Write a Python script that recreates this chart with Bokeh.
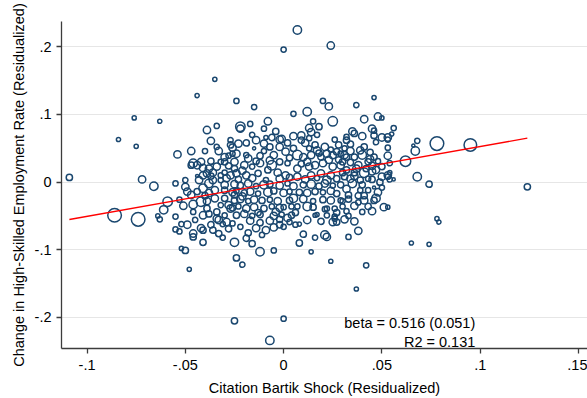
import math
from bokeh.plotting import figure
from bokeh.models import ColumnDataSource, Label, FixedTicker
from bokeh.embed import file_html
from bokeh.resources import INLINE

# Residualized citation Bartik shock (x) for each area
shock = [
    -0.109, -0.076, -0.063, -0.084, -0.075, -0.044, -0.072, -0.066, -0.054, -0.047,
    -0.046, -0.047, -0.055, -0.050, -0.044, -0.050, -0.086, -0.074, -0.064, -0.063,
    -0.061, -0.059, -0.055, -0.051, -0.046, -0.055, -0.053, -0.052, -0.049, -0.046,
    -0.045, -0.052, -0.050, -0.048, -0.049, -0.046, 0.007, 0.000, 0.024, -0.035,
    -0.024, -0.015, 0.005, 0.012, 0.020, 0.023, 0.025, 0.037, 0.046, 0.041,
    0.048, 0.050, -0.008, -0.017, -0.022, -0.022, -0.034, -0.039, -0.010, 0.013,
    0.015, 0.018, 0.035, 0.045, -0.037, -0.023, -0.027, -0.002, 0.005, 0.009,
    0.026, 0.032, 0.040, 0.053, 0.050, 0.056, 0.055, 0.068, 0.066, 0.067,
    0.078, 0.095, 0.062, 0.053, 0.053, 0.054, 0.068, 0.074, 0.124, 0.053,
    0.054, 0.056, 0.078, 0.079, 0.065, 0.074, 0.053, -0.025, 0.000, -0.007,
    0.037, 0.024, 0.042, -0.021, -0.024, -0.012, -0.005, 0.014, -0.025, -0.019,
    -0.016, -0.041, 0.008, 0.016, 0.021, 0.022, 0.033, 0.038, 0.045, 0.040,
    0.036, 0.025, 0.026, 0.022, 0.016, 0.010, 0.006, 0.008, 0.003, -0.002,
    -0.009, -0.014, -0.022, -0.026, -0.033, -0.031, -0.041, -0.038, -0.005, 0.000,
    0.027, 0.026, 0.029, 0.026, 0.022, 0.017, 0.012, 0.007, 0.004, 0.000,
    0.005, 0.033, 0.032, 0.030, 0.051, 0.047, 0.046, 0.041, 0.038, 0.043,
    0.046, 0.049, 0.040, 0.039, 0.038, 0.032, 0.033, 0.030, 0.050, 0.053,
    0.034, 0.039, 0.043, -0.053, -0.040, -0.042, -0.041, -0.046, -0.042, -0.047,
    -0.044, -0.041, -0.043, -0.038, -0.038, -0.039, -0.037, -0.036, -0.034, -0.033,
    -0.029, -0.031, -0.030, -0.027, -0.034, -0.033, -0.040, -0.037, -0.042, -0.044,
    -0.041, -0.038, -0.034, -0.032, -0.027, -0.030, -0.028, -0.026, -0.030, -0.041,
    -0.039, -0.036, -0.032, -0.030, -0.027, -0.009, -0.006, -0.001, 0.014, 0.013,
    0.017, 0.028, -0.026, -0.024, -0.019, -0.015, -0.012, -0.010, -0.007, -0.002,
    0.001, 0.005, 0.007, 0.013, 0.010, 0.017, 0.019, 0.022, 0.025, 0.029,
    0.031, -0.025, -0.020, -0.016, -0.012, -0.007, -0.006, -0.002, 0.002, 0.007,
    0.013, 0.016, 0.020, 0.025, 0.029, -0.024, -0.019, -0.013, -0.003, 0.001,
    0.007, 0.014, 0.019, 0.024, 0.030, 0.046, 0.036, 0.046, 0.053, 0.032,
    0.034, 0.047, 0.039, 0.040, 0.036, 0.032, 0.046, 0.030, 0.034, 0.038,
    0.043, 0.045, 0.050, 0.032, 0.036, 0.041, 0.054, -0.037, -0.032, -0.029,
    -0.035, -0.030, -0.035, -0.030, -0.032, -0.028, -0.023, -0.016, -0.009, -0.002,
    0.003, 0.011, 0.017, 0.022, 0.027, -0.025, -0.022, -0.018, -0.014, -0.010,
    -0.007, -0.002, 0.002, 0.005, 0.010, 0.014, 0.018, 0.021, 0.025, 0.029,
    -0.026, -0.024, -0.020, -0.017, -0.013, -0.008, -0.005, 0.000, 0.003, 0.008,
    0.012, 0.016, 0.020, 0.024, 0.027, -0.025, -0.022, -0.018, -0.015, -0.011,
    -0.007, -0.003, 0.003, 0.010, 0.015, 0.020, 0.024, -0.026, -0.023, -0.019,
    -0.015, -0.010, -0.006, -0.002, 0.015, 0.021, -0.024, -0.020, -0.016, -0.012,
    -0.005, -0.001, 0.004, 0.045, 0.028, 0.012, -0.008, -0.018, 0.035, 0.044,
    0.011, 0.016, 0.021, 0.024, 0.018, 0.014, 0.027, 0.031, 0.009, 0.023,
    0.034, 0.041, 0.044, 0.048, 0.037, 0.042, 0.047, 0.031, 0.036, 0.045,
    0.033, 0.036, 0.043, 0.048, 0.041, 0.050, 0.027, 0.031, 0.019, 0.012,
    -0.036, -0.025, -0.021, -0.028, -0.039, -0.025, -0.021, -0.030, -0.034, -0.028,
    -0.017, -0.012, -0.007, -0.002, 0.002, 0.006, -0.018, -0.011, -0.004, -0.013,
    -0.019, -0.014, -0.004, 0.002, -0.016, 0.009, -0.010, 0.003, -0.005, -0.014,
]

# Residualized change in the high-skilled employment rate (y)
emp_change = [
    0.007, 0.095, 0.090, 0.063, 0.053, 0.128, 0.004, -0.006, 0.041, 0.046,
    0.028, 0.025, -0.002, 0.003, 0.009, -0.007, -0.049, -0.055, -0.050, -0.055,
    -0.041, -0.029, -0.051, -0.035, -0.033, -0.070, -0.073, -0.062, -0.063, -0.076,
    -0.056, -0.098, -0.101, -0.129, -0.014, -0.081, 0.225, 0.196, 0.202, 0.152,
    0.120, 0.111, 0.101, 0.104, 0.120, 0.112, 0.090, 0.114, 0.125, 0.093,
    0.097, 0.095, 0.090, 0.086, 0.082, 0.079, 0.083, 0.077, 0.079, 0.080,
    0.090, 0.082, 0.075, 0.079, 0.061, 0.057, 0.062, 0.063, 0.068, 0.069,
    0.063, 0.067, 0.068, 0.066, 0.066, 0.080, 0.071, 0.061, 0.054, 0.046,
    0.057, 0.055, 0.031, 0.039, 0.051, 0.028, 0.008, -0.003, -0.007, 0.010,
    0.004, 0.004, -0.054, -0.059, -0.090, -0.092, -0.037, -0.205, -0.202, -0.234,
    -0.158, -0.117, -0.123, -0.122, -0.112, -0.103, -0.101, -0.103, -0.089, -0.083,
    -0.091, -0.089, -0.090, -0.082, -0.078, -0.081, -0.081, -0.072, -0.043, -0.044,
    -0.058, -0.059, -0.051, -0.049, -0.049, -0.077, -0.063, -0.062, -0.059, -0.063,
    -0.071, -0.068, -0.066, -0.061, -0.056, -0.062, -0.071, -0.047, -0.067, -0.066,
    -0.059, -0.054, -0.027, -0.039, -0.039, -0.048, -0.036, -0.036, -0.036, -0.037,
    -0.024, -0.050, -0.043, -0.036, -0.037, -0.024, -0.027, -0.027, -0.030, -0.012,
    -0.008, 0.000, -0.004, -0.012, -0.020, -0.010, -0.019, -0.028, 0.008, 0.008,
    0.005, 0.003, 0.005, -0.026, -0.020, -0.068, -0.049, -0.044, -0.029, -0.019,
    -0.014, -0.009, 0.003, -0.002, -0.016, -0.039, -0.063, -0.071, -0.054, -0.076,
    -0.059, -0.082, -0.049, -0.039, 0.052, 0.046, 0.046, 0.031, 0.030, 0.025,
    0.021, 0.020, 0.023, 0.030, 0.055, 0.037, 0.039, 0.042, 0.030, 0.010,
    0.013, 0.014, 0.010, 0.014, 0.010, 0.066, 0.066, 0.064, 0.074, 0.065,
    0.070, 0.055, 0.051, 0.042, 0.040, 0.050, 0.039, 0.046, 0.052, 0.052,
    0.045, 0.050, 0.040, 0.050, 0.037, 0.047, 0.037, 0.042, 0.040, 0.042,
    0.050, 0.030, 0.025, 0.023, 0.028, 0.032, 0.025, 0.030, 0.028, 0.020,
    0.023, 0.025, 0.028, 0.023, 0.025, 0.013, 0.010, 0.013, 0.014, 0.010,
    0.008, 0.010, 0.013, 0.010, 0.014, 0.076, 0.072, 0.069, 0.063, 0.062,
    0.056, 0.059, 0.047, 0.040, 0.037, 0.037, 0.037, 0.030, 0.029, 0.025,
    0.030, 0.024, 0.023, 0.018, 0.014, 0.014, 0.014, 0.009, 0.003, 0.006,
    -0.012, -0.012, -0.024, -0.024, -0.034, -0.034, 0.004, 0.006, 0.003, 0.005,
    0.007, 0.004, 0.006, 0.003, 0.005, -0.003, -0.005, -0.002, -0.006, -0.004,
    -0.003, -0.005, -0.002, -0.006, -0.004, -0.003, -0.006, -0.002, -0.005, -0.004,
    -0.015, -0.013, -0.016, -0.014, -0.017, -0.015, -0.013, -0.016, -0.014, -0.015,
    -0.016, -0.014, -0.015, -0.013, -0.017, -0.027, -0.025, -0.028, -0.026, -0.027,
    -0.026, -0.028, -0.027, -0.025, -0.028, -0.026, -0.027, -0.038, -0.036, -0.039,
    -0.037, -0.039, -0.036, -0.038, -0.037, -0.040, -0.049, -0.047, -0.050, -0.048,
    -0.050, -0.048, -0.049, 0.016, 0.033, 0.030, 0.018, 0.035, -0.002, 0.044,
    0.058, 0.055, 0.052, 0.048, 0.043, 0.040, 0.045, 0.040, 0.027, 0.033,
    0.046, 0.052, 0.034, 0.031, 0.020, 0.020, 0.018, 0.008, 0.009, 0.004,
    -0.025, -0.035, -0.036, -0.015, -0.020, -0.008, -0.045, -0.055, -0.058, -0.056,
    0.003, 0.020, 0.017, 0.024, -0.028, -0.019, -0.021, -0.004, -0.044, -0.069,
    -0.057, -0.060, -0.057, -0.055, -0.053, -0.045, -0.075, -0.078, -0.044, -0.045,
    0.058, 0.062, 0.075, 0.058, 0.070, 0.062, 0.057, 0.036, 0.040, 0.031,
]

# Regression weights (relative employment base of each area)
weight = [
    36, 16, 16, 16, 16, 16, 49, 64, 49, 49,
    64, 36, 25, 25, 9, 49, 169, 169, 16, 25,
    64, 81, 25, 49, 64, 25, 25, 25, 49, 49,
    25, 16, 36, 16, 49, 36, 64, 25, 49, 16,
    25, 25, 25, 64, 25, 49, 81, 25, 16, 49,
    49, 16, 49, 25, 81, 49, 25, 49, 25, 49,
    25, 36, 49, 49, 49, 49, 25, 49, 49, 49,
    25, 25, 49, 49, 49, 25, 16, 25, 9, 64,
    169, 144, 100, 49, 25, 25, 64, 36, 36, 49,
    25, 9, 16, 16, 16, 16, 16, 36, 25, 64,
    16, 16, 25, 25, 36, 64, 25, 16, 64, 36,
    36, 36, 36, 25, 64, 49, 25, 49, 49, 25,
    49, 49, 25, 25, 16, 36, 25, 16, 25, 36,
    49, 49, 25, 25, 49, 25, 36, 36, 49, 25,
    36, 25, 25, 25, 25, 16, 64, 25, 25, 25,
    64, 25, 25, 25, 49, 64, 36, 49, 25, 25,
    9, 36, 36, 25, 36, 49, 36, 25, 49, 25,
    49, 36, 25, 25, 36, 49, 49, 25, 81, 49,
    36, 64, 49, 64, 49, 36, 36, 36, 49, 36,
    49, 25, 25, 49, 25, 49, 25, 36, 49, 49,
    49, 49, 49, 25, 36, 49, 25, 25, 36, 49,
    49, 49, 25, 25, 49, 16, 36, 49, 49, 25,
    25, 36, 49, 49, 25, 9, 36, 25, 36, 49,
    49, 36, 81, 25, 49, 49, 36, 49, 49, 25,
    25, 49, 49, 25, 49, 49, 81, 36, 25, 49,
    49, 49, 49, 49, 49, 49, 49, 36, 49, 49,
    49, 49, 49, 49, 36, 25, 36, 36, 25, 36,
    36, 25, 49, 64, 36, 36, 36, 36, 36, 49,
    36, 49, 36, 36, 36, 81, 16, 36, 25, 49,
    49, 36, 49, 36, 25, 49, 36, 49, 25, 49,
    36, 49, 25, 64, 36, 49, 36, 49, 25, 64,
    36, 49, 25, 49, 36, 64, 36, 49, 25, 36,
    49, 25, 36, 49, 25, 64, 36, 49, 25, 36,
    49, 36, 25, 49, 36, 36, 49, 25, 49, 36,
    25, 49, 36, 49, 25, 36, 49, 36, 25, 49,
    49, 36, 25, 49, 36, 25, 36, 49, 25, 36,
    49, 25, 36, 49, 36, 49, 36, 49, 64, 36,
    49, 36, 49, 25, 36, 49, 36, 49, 36, 49,
    49, 36, 49, 25, 49, 36, 49, 36, 49, 36,
    36, 49, 36, 49, 36, 25, 36, 49, 36, 49,
    49, 36, 49, 36, 49, 36, 49, 49, 36, 36,
    49, 36, 49, 36, 49, 36, 36, 25, 49, 36,
    36, 49, 36, 36, 25, 36, 49, 36, 49, 36,
]

# Weighted fit
beta = 0.516
beta_se = 0.051
intercept = 0.001
r2 = 0.131

x_ticks = [-0.1, -0.05, 0.0, 0.05, 0.1, 0.15]
x_tick_labels = ["-.1", "-.05", "0", ".05", ".1", ".15"]
y_ticks = [-0.2, -0.1, 0.0, 0.1, 0.2]
y_tick_labels = ["-.2", "-.1", "0", ".1", ".2"]

FONT = "Liberation Sans"
NAVY = "#1a476f"
AXIS = "#3c3c3c"

src = ColumnDataSource(data=dict(
    x=shock,
    y=emp_change,
    size=[1.05 * math.sqrt(w) for w in weight],
))

p = figure(
    width=587, height=398,
    x_range=(-0.113, 0.1546), y_range=(-0.246, 0.2375),
    output_backend="svg", toolbar_location=None,
    min_border_left=61, min_border_right=0, min_border_top=21, min_border_bottom=49,
)
p.background_fill_color = "white"
p.border_fill_color = "white"
p.outline_line_color = None

p.scatter("x", "y", size="size", source=src, marker="circle",
          fill_color=None, line_color=NAVY, line_width=1.5)

x0, x1 = min(shock), max(shock)
p.line([x0, x1], [intercept + beta * x0, intercept + beta * x1],
       line_color="#ff0000", line_width=1.3)

p.xgrid.visible = False
p.ygrid.ticker = FixedTicker(ticks=y_ticks)
p.ygrid.grid_line_color = "#e6e6e6"
p.ygrid.grid_line_width = 1

p.xaxis.ticker = FixedTicker(ticks=x_ticks)
p.xaxis.major_label_overrides = dict(zip(x_ticks, x_tick_labels))
p.yaxis.ticker = FixedTicker(ticks=y_ticks)
p.yaxis.major_label_overrides = dict(zip(y_ticks, y_tick_labels))

for ax in (p.xaxis, p.yaxis):
    ax.axis_line_color = AXIS
    ax.axis_line_width = 1.3
    ax.major_tick_line_color = AXIS
    ax.major_tick_line_width = 1.3
    ax.major_tick_out = 5
    ax.major_tick_in = 0
    ax.minor_tick_line_color = None
    ax.major_label_text_font = FONT
    ax.major_label_text_font_size = "14.5px"
    ax.major_label_text_color = "black"
    ax.axis_label_text_font = FONT
    ax.axis_label_text_font_size = "14.5px"
    ax.axis_label_text_font_style = "normal"
    ax.axis_label_text_color = "black"

p.xaxis.axis_label = "Citation Bartik Shock (Residualized)"
p.yaxis.axis_label = "Change in High-Skilled Employment Rate (Residualized)"
p.xaxis.major_label_standoff = 6
p.yaxis.major_label_standoff = 5
p.xaxis.axis_label_standoff = 7
p.yaxis.axis_label_standoff = 5

p.add_layout(Label(x=0.0975, y=-0.208, text=f"beta = {beta:.3f} ({beta_se:.3f})",
                   text_align="right", text_baseline="middle",
                   text_font=FONT, text_font_size="14.5px", text_color="black"))
p.add_layout(Label(x=0.0975, y=-0.236, text=f"R2 = {r2:.3f}",
                   text_align="right", text_baseline="middle",
                   text_font=FONT, text_font_size="14.5px", text_color="black"))

open("out.html", "w").write(file_html(p, INLINE))
